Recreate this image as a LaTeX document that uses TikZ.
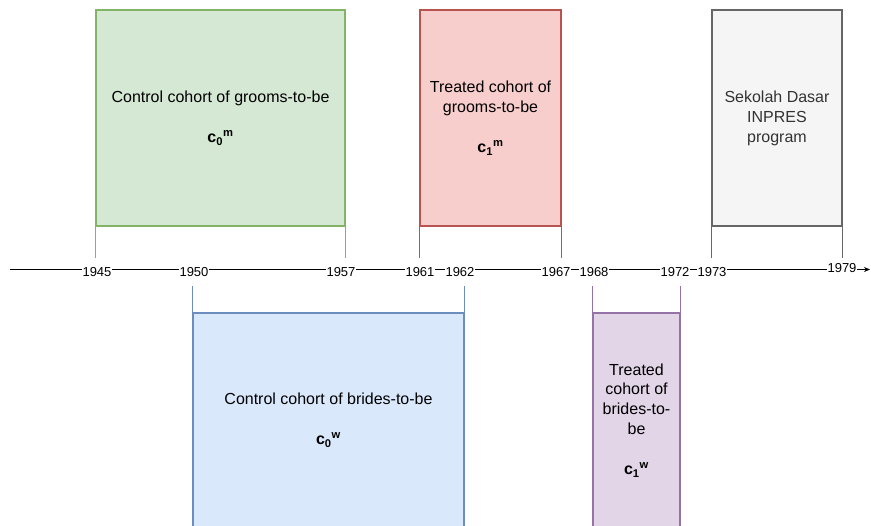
\documentclass[tikz,border=0pt]{standalone}
\usepackage{fontspec}
\setmainfont{Liberation Sans}
\usetikzlibrary{arrows.meta}
\tikzset{>=Stealth}
\usepackage{xcolor}
\definecolor{grFill}{HTML}{D5E8D4}
\definecolor{grLine}{HTML}{82B366}
\definecolor{rdFill}{HTML}{F8CECC}
\definecolor{rdLine}{HTML}{B85450}
\definecolor{gyFill}{HTML}{F5F5F5}
\definecolor{gyLine}{HTML}{666666}
\definecolor{gyText}{HTML}{333333}
\definecolor{blFill}{HTML}{DAE8FC}
\definecolor{blLine}{HTML}{6C8EBF}
\definecolor{puFill}{HTML}{E1D5E7}
\definecolor{puLine}{HTML}{9673A6}
\tikzstyle{axisline}=[line width=1.1pt,->,>={Stealth[length=6pt,width=5pt]}]
\tikzstyle{year}=[fill=white,inner sep=1pt,font=\fontsize{13}{15}\selectfont]
\tikzset{
  cohort/.style={draw=#1Line,fill=#1Fill,line width=1.3pt,align=center,
                 inner sep=0pt,font=\fontsize{16}{20}\selectfont},
  cohort/.default=gr,
  leg/.style={draw=#1Line,line width=1.3pt}}
\newcommand{\cvar}[2]{\textbf{c}\textsubscript{\textbf{#1}}\textsuperscript{\textbf{#2}}}

\begin{document}
\begin{tikzpicture}[x=1pt,y=-1pt]
  \clip (0,0) rectangle (871,526);

  % AXIS
  \coordinate (axisL) at (10,269.5);
  \coordinate (axisR) at (870,269.5);
  \draw[axisline] (axisL) -- (axisR);
  \foreach \x/\yr/\dy in {97/1945/0,194/1950/0,341/1957/0,420/1961/0,460/1962/0,
                          556/1967/0,594/1968/0,675/1972/0,712/1973/0,842/1979/-3.5}{
    \node[year] (Y\yr) at (\x,271.7+\dy) {\yr};
  }

  % GROOMS (ABOVE)
  \node[cohort=gr,minimum width=249pt,minimum height=216pt] (c0m) at (220.5,118)
    {Control cohort of grooms-to-be\\[20pt]\cvar{0}{m}};
  \node[cohort=rd,minimum width=141pt,minimum height=216pt] (c1m) at (490.5,118)
    {Treated cohort of\\grooms-to-be\\[20pt]\cvar{1}{m}};
  \node[cohort=gy,text=gyText,minimum width=130pt,minimum height=216pt] (sdi) at (777,118)
    {Sekolah Dasar\\INPRES\\program};
  \foreach \b/\c in {c0m/gr,c1m/rd,sdi/gy}{
    \draw[leg=\c,shorten >=11.5pt] (\b.south west) -- (\b.south west |- axisL);
    \draw[leg=\c,shorten >=11.5pt] (\b.south east) -- (\b.south east |- axisL);
  }

  % BRIDES (BELOW)
  \node[cohort=bl,minimum width=271pt,minimum height=215pt] (c0w) at (328.5,420.5)
    {Control cohort of brides-to-be\\[20pt]\cvar{0}{w}};
  \node[cohort=pu,minimum width=87pt,minimum height=215pt] (c1w) at (636.5,420.5)
    {Treated\\cohort of\\brides-to-\\be\\[20pt]\cvar{1}{w}};
  \foreach \b/\c in {c0w/bl,c1w/pu}{
    \draw[leg=\c,shorten >=16.5pt] (\b.north west) -- (\b.north west |- axisL);
    \draw[leg=\c,shorten >=16.5pt] (\b.north east) -- (\b.north east |- axisL);
  }

\end{tikzpicture}
\end{document}
